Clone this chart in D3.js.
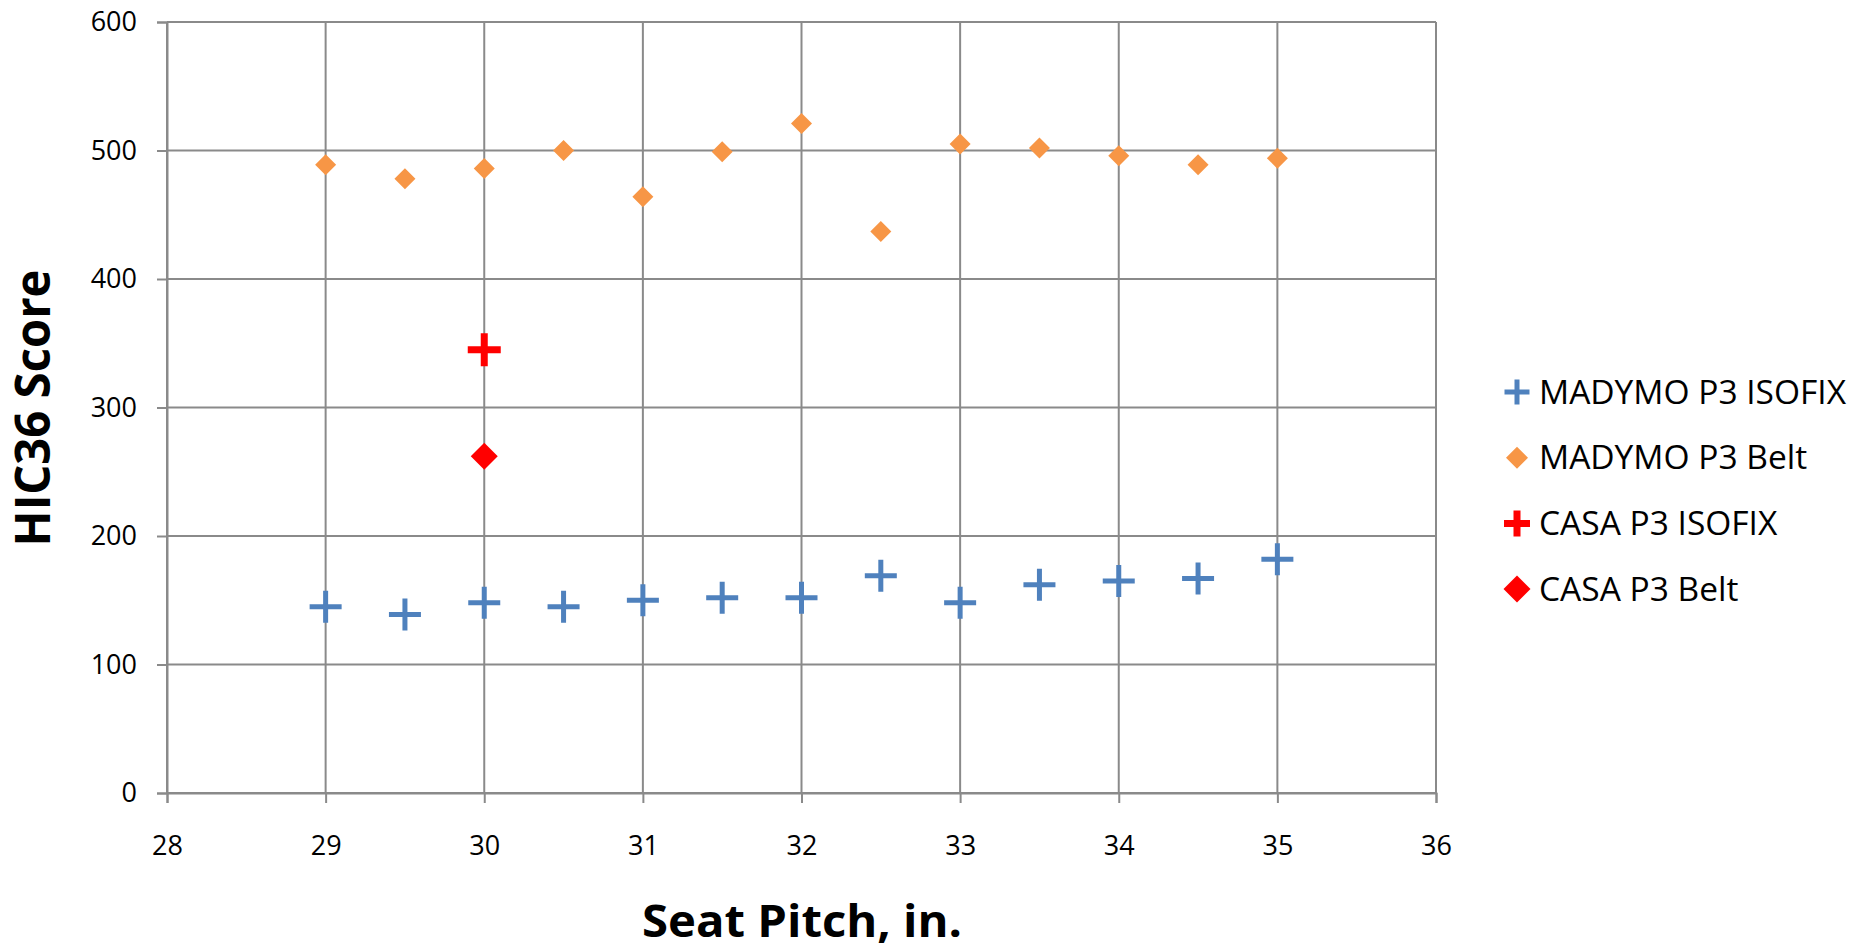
<!DOCTYPE html>
<html>
<head>
<meta charset="utf-8">
<script src="https://cdn.jsdelivr.net/npm/d3@7"></script>
<style>
  html, body { margin: 0; padding: 0; background: #fff; }
  svg { display: block; }
  text { font-family: "Open Sans", "Noto Sans", sans-serif; fill: #000; }
</style>
</head>
<body>
<svg id="chart" width="1856" height="949"></svg>
<script>
// ---- data ----
const pitches = [29, 29.5, 30, 30.5, 31, 31.5, 32, 32.5, 33, 33.5, 34, 34.5, 35];
const madymoIsofix = [145, 139, 148, 145, 150, 152, 152, 169, 148, 162, 165, 167, 182];
const madymoBelt = [489, 478, 486, 500, 464, 499, 521, 437, 505, 502, 496, 489, 494];
const casaPitch = [30];
const casaIsofix = [345];
const casaBelt = [262];
const xTicks = [28, 29, 30, 31, 32, 33, 34, 35, 36];
const yTicks = [0, 100, 200, 300, 400, 500, 600];
const seriesNames = ["MADYMO P3 ISOFIX", "MADYMO P3 Belt", "CASA P3 ISOFIX", "CASA P3 Belt"];
const xTitle = "Seat Pitch, in.";
const yTitle = "HIC36 Score";

// ---- layout ----
const svg = d3.select("#chart");
const plot = { left: 167, right: 1436, top: 22, bottom: 793 };
const x = d3.scaleLinear().domain([28, 36]).range([plot.left, plot.right]);
const y = d3.scaleLinear().domain([0, 600]).range([plot.bottom, plot.top]);
const gridColor = "#8a8a8a";

// gridlines
svg.append("g").selectAll("line.h").data(yTicks).join("line")
  .attr("x1", plot.left).attr("x2", plot.right)
  .attr("y1", d => y(d)).attr("y2", d => y(d))
  .attr("stroke", gridColor).attr("stroke-width", 2);
svg.append("g").selectAll("line.v").data(xTicks).join("line")
  .attr("x1", d => x(d)).attr("x2", d => x(d))
  .attr("y1", plot.top).attr("y2", plot.bottom)
  .attr("stroke", gridColor).attr("stroke-width", 2);

// axes
const yAxis = d3.axisLeft(y).tickValues(yTicks).tickSize(10).tickPadding(20);
const gy = svg.append("g").attr("transform", `translate(${plot.left},0)`).call(yAxis);
gy.select(".domain").attr("stroke", gridColor).attr("stroke-width", 2);
gy.selectAll(".tick line").attr("stroke", gridColor).attr("stroke-width", 2);
gy.selectAll(".tick text").attr("font-size", 27).attr("fill", "#111")
  .style("font-family", "'Open Sans', sans-serif");

const xAxis = d3.axisBottom(x).tickValues(xTicks).tickSize(10).tickPadding(33);
const gx = svg.append("g").attr("transform", `translate(0,${plot.bottom})`).call(xAxis);
gx.select(".domain").attr("stroke", gridColor).attr("stroke-width", 2);
gx.selectAll(".tick line").attr("stroke", gridColor).attr("stroke-width", 2);
gx.selectAll(".tick text").attr("font-size", 27).attr("fill", "#111")
  .style("font-family", "'Open Sans', sans-serif");

// marker shapes
function crossPath(size, thick) {
  const h = size / 2, t = thick / 2;
  return `M${-h},${-t}H${-t}V${-h}H${t}V${-t}H${h}V${t}H${t}V${h}H${-t}V${t}H${-h}Z`;
}
function diamondPath(size) {
  const h = size / 2;
  return `M0,${-h}L${h},0L0,${h}L${-h},0Z`;
}

const blue = "#4f81bd", orange = "#f79646", red = "#ff0000";

const belt = pitches.map((p, i) => ({ x: p, y: madymoBelt[i] }));
const iso = pitches.map((p, i) => ({ x: p, y: madymoIsofix[i] }));
const cIso = casaPitch.map((p, i) => ({ x: p, y: casaIsofix[i] }));
const cBelt = casaPitch.map((p, i) => ({ x: p, y: casaBelt[i] }));

svg.append("g").selectAll("path").data(belt).join("path")
  .attr("d", diamondPath(21)).attr("fill", orange)
  .attr("transform", d => `translate(${x(d.x)},${y(d.y)})`);
svg.append("g").selectAll("path").data(iso).join("path")
  .attr("d", crossPath(32, 5)).attr("fill", blue)
  .attr("transform", d => `translate(${x(d.x)},${y(d.y)})`);
svg.append("g").selectAll("path").data(cIso).join("path")
  .attr("d", crossPath(33, 7)).attr("fill", red)
  .attr("transform", d => `translate(${x(d.x)},${y(d.y)})`);
svg.append("g").selectAll("path").data(cBelt).join("path")
  .attr("d", diamondPath(27)).attr("fill", red)
  .attr("transform", d => `translate(${x(d.x)},${y(d.y)})`);

// legend
const legendItems = [
  { name: seriesNames[0], d: crossPath(25, 5), c: blue },
  { name: seriesNames[1], d: diamondPath(22), c: orange },
  { name: seriesNames[2], d: crossPath(26, 7), c: red },
  { name: seriesNames[3], d: diamondPath(27), c: red }
];
const lg = svg.append("g").selectAll("g").data(legendItems).join("g")
  .attr("transform", (d, i) => `translate(1517,${392 + i * 65.7})`);
lg.append("path").attr("d", d => d.d).attr("fill", d => d.c);
lg.append("text").attr("x", 22).attr("y", 0).attr("dy", "0.35em")
  .attr("font-size", 33.5).attr("fill", "#111").text(d => d.name);

// axis titles
svg.append("text")
  .attr("transform", `translate(50,408) rotate(-90)`)
  .attr("text-anchor", "middle")
  .attr("font-size", 48).attr("font-weight", "bold")
  .attr("textLength", 277).attr("lengthAdjust", "spacingAndGlyphs")
  .text(yTitle);
svg.append("text")
  .attr("x", 802).attr("y", 937)
  .attr("text-anchor", "middle")
  .attr("font-size", 44).attr("font-weight", "bold")
  .attr("textLength", 320).attr("lengthAdjust", "spacingAndGlyphs")
  .text(xTitle);
</script>
</body>
</html>
